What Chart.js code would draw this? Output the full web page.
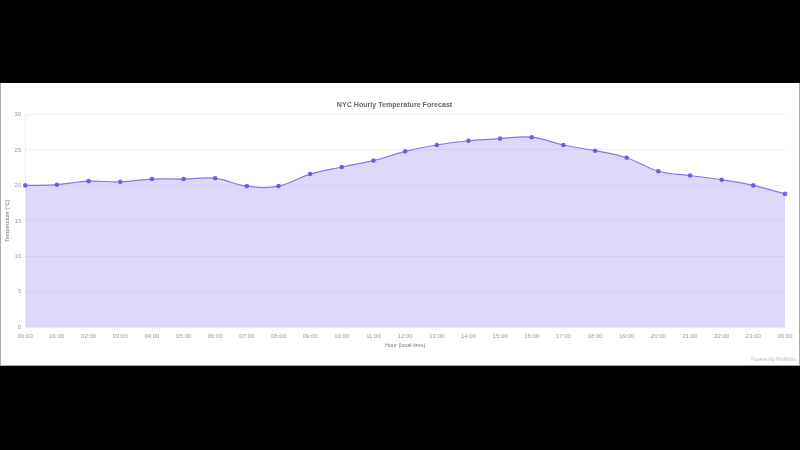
<!DOCTYPE html>
<html>
<head>
<meta charset="utf-8">
<style>
  html, body { margin: 0; padding: 0; background: #000; }
  #panel { position: absolute; left: 0; top: 83px; width: 798px; height: 282px; background: #fff; border: 1px solid #aaa; border-top: 0; overflow: hidden; }
  #myChart { position: absolute; left: -1px; top: 0; filter: blur(0.35px); }
  #note { position: absolute; right: 3px; bottom: 3px; font: 4.5px "Liberation Sans", Arial, sans-serif; color: #bbb; filter: blur(0.3px); }
</style>
<script src="https://cdn.jsdelivr.net/npm/chart.js@4"></script>
</head>
<body>
<div id="panel">
  <canvas id="myChart" width="800" height="283"></canvas>
  <div id="note">Powered by PlotMarks</div>
</div>
<script>
const hours = ["00:00","01:00","02:00","03:00","04:00","05:00","06:00","07:00","08:00","09:00","10:00","11:00","12:00","13:00","14:00","15:00","16:00","17:00","18:00","19:00","20:00","21:00","22:00","23:00","00:00"];
const temps = [20.0,20.1,20.6,20.5,20.9,20.9,21.0,19.9,19.9,21.6,22.6,23.5,24.8,25.7,26.3,26.6,26.8,25.7,24.9,23.9,22.0,21.4,20.8,20.0,18.8];
const chartTitle = "NYC Hourly Temperature Forecast";
const xTitle = "Hour (local time)";
const yTitle = "Temperature (°C)";

Chart.defaults.font.family = '"Liberation Sans", Arial, sans-serif';

const ctx = document.getElementById('myChart').getContext('2d');
const myChart = new Chart(ctx, {
    type: 'line',
    data: {
        labels: hours,
        datasets: [{
            label: 'Temperature',
            data: temps,
            fill: true,
            backgroundColor: 'rgba(99, 80, 235, 0.22)',
            borderColor: 'rgba(105, 90, 235, 0.8)',
            borderWidth: 1.2,
            pointBackgroundColor: 'rgba(99, 85, 235, 0.85)',
            pointBorderColor: 'rgba(99, 85, 235, 0.85)',
            pointRadius: 1.7,
            tension: 0.4
        }]
    },
    options: {
        responsive: false,
        animation: false,
        layout: { padding: { left: 4, right: 15, top: 0, bottom: 0 } },
        plugins: {
            legend: { display: false },
            title: {
                display: true,
                text: chartTitle,
                color: '#666',
                font: { size: 7.1, weight: 'bold' },
                padding: { top: 18, bottom: 5 }
            }
        },
        scales: {
            x: {
                offset: false,
                grid: { display: false, tickLength: 0 },
                border: { color: '#eee' },
                ticks: { color: '#999', font: { size: 6 }, maxRotation: 0, autoSkip: false, padding: 6 },
                title: { display: true, text: xTitle, color: '#777', font: { size: 5.5 }, padding: { top: -4, bottom: 17 } }
            },
            y: {
                min: 0,
                max: 30,
                grid: { color: 'rgba(0,0,0,0.05)', drawTicks: false },
                border: { color: '#eee' },
                ticks: { stepSize: 5, color: '#999', font: { size: 6 }, padding: 4 },
                title: { display: true, text: yTitle, color: '#777', font: { size: 5.5 }, padding: { top: 0, bottom: 0 } }
            }
        }
    }
});
</script>
</body>
</html>
